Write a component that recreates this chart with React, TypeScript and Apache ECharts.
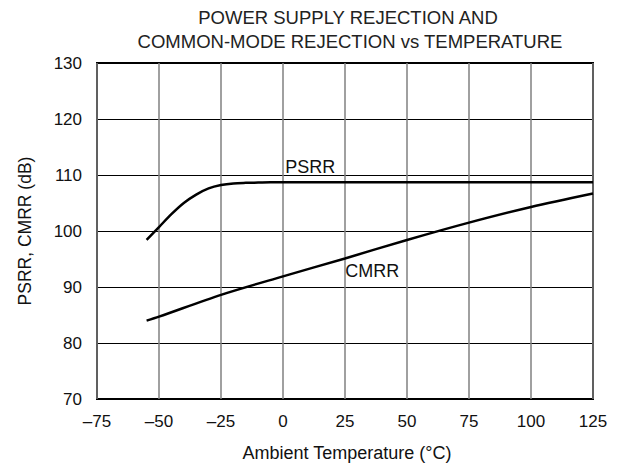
import React, { useEffect, useRef } from "react";
import * as echarts from "echarts";

const psrrTemps = [-55, -50, -45, -40, -35, -30, -25, -20, -15, -10, -5, 0, 25, 50, 75, 100, 125];
const psrrValues = [98.4, 100.7, 103.0, 105.0, 106.5, 107.6, 108.2, 108.5, 108.6, 108.65, 108.7, 108.7, 108.7, 108.7, 108.7, 108.7, 108.7];
const cmrrTemps = [-55, -50, -25, 0, 25, 50, 75, 100, 125];
const cmrrValues = [84.0, 84.7, 88.6, 91.9, 95.1, 98.4, 101.5, 104.3, 106.7];
const titleLines = ["POWER SUPPLY REJECTION AND", "COMMON-MODE REJECTION vs TEMPERATURE"];
const xAxisName = "Ambient Temperature (°C)";
const yAxisName = "PSRR, CMRR (dB)";
const FONT = "Liberation Sans, Arial, sans-serif";

export default function App() {
  const ref = useRef<HTMLDivElement>(null);
  useEffect(() => {
    if (!ref.current) return;
    const chart = echarts.init(ref.current, undefined, { renderer: "svg" });
    const pair = (xs: number[], ys: number[]) => xs.map((x, i) => [x, ys[i]]);
    chart.setOption({
      animation: false,
      backgroundColor: "#fff",
      textStyle: { fontFamily: FONT },
      grid: { left: 97, right: 35, top: 63, bottom: 69, show: true, borderColor: "#000", borderWidth: 2, backgroundColor: "transparent" },
      graphic: [
        { type: "text", x: 348, y: 17, style: { text: titleLines[0], textAlign: "center", textVerticalAlign: "middle", font: `18.5px ${FONT}`, fill: "#222" } },
        { type: "text", x: 350, y: 41, style: { text: titleLines[1], textAlign: "center", textVerticalAlign: "middle", font: `18.5px ${FONT}`, fill: "#222" } },
        { type: "text", x: 25, y: 231, rotation: Math.PI / 2, style: { text: yAxisName, textAlign: "center", textVerticalAlign: "middle", font: `17.5px ${FONT}`, fill: "#111" } },
        { type: "text", x: 347, y: 453, style: { text: xAxisName, textAlign: "center", textVerticalAlign: "middle", font: `18px ${FONT}`, fill: "#111" } },
      ],
      xAxis: {
        type: "value", min: -75, max: 125, interval: 25,
        axisLine: { show: false }, axisTick: { show: false },
        splitLine: { show: true, lineStyle: { color: "#808080", width: 1.5 } },
        axisLabel: { color: "#111", fontSize: 17, margin: 14, fontFamily: FONT, formatter: (v: number) => (v < 0 ? "\u2013" + Math.abs(v) : String(v)) },
      },
      yAxis: {
        type: "value", min: 70, max: 130, interval: 10,
        axisLine: { show: false }, axisTick: { show: false },
        splitLine: { show: true, lineStyle: { color: "#000", width: 1 } },
        axisLabel: { color: "#111", fontSize: 17, margin: 15, fontFamily: FONT },
      },
      series: [
        {
          type: "line", name: "PSRR", data: pair(psrrTemps, psrrValues), smooth: 0.3, showSymbol: false,
          lineStyle: { color: "#000", width: 2.5 },
          markPoint: { symbol: "rect", symbolSize: 1, itemStyle: { color: "transparent" }, label: { show: true, formatter: "PSRR", color: "#111", fontSize: 18, fontFamily: FONT }, data: [{ coord: [11, 111.5] }] },
        },
        {
          type: "line", name: "CMRR", data: pair(cmrrTemps, cmrrValues), smooth: 0.3, showSymbol: false,
          lineStyle: { color: "#000", width: 2.5 },
          markPoint: { symbol: "rect", symbolSize: 1, itemStyle: { color: "transparent" }, label: { show: true, formatter: "CMRR", color: "#111", fontSize: 18, fontFamily: FONT }, data: [{ coord: [36, 92.8] }] },
        },
      ],
    });
    return () => chart.dispose();
  }, []);
  return <div ref={ref} style={{ width: 628, height: 468, position: "absolute", left: 0, top: 0 }} />;
}
